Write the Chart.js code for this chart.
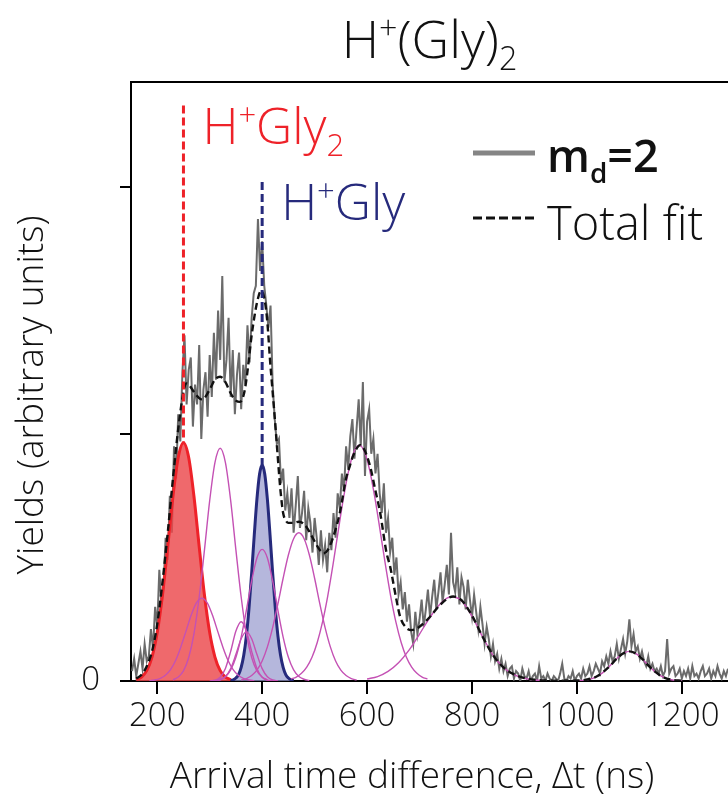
<!DOCTYPE html>
<html>
<head>
<meta charset="utf-8">
<script src="https://cdn.jsdelivr.net/npm/chart.js@4.4.0/dist/chart.umd.min.js"></script>
<style>
  html, body { margin: 0; padding: 0; background: #fff; }
  #wrap { width: 728px; height: 802px; }
</style>
</head>
<body>
<div id="wrap"><canvas id="trace" width="728" height="802"></canvas></div>
<script>
// m_d = 2 arrival-time spectrum, 4 ns bins starting at 152 ns
const rawStart = 152;
const rawStep = 4;
const rawYield = [
  0.04, 0.09, 0.02, 0.07, 0.12, 0.05, 0.15, 0.08, 0.10, 0.21, 0.13, 0.30, 0.22,
  0.45, 0.31, 0.38, 0.58, 0.49, 0.75, 0.60, 0.95, 0.82, 1.08, 0.97, 1.25,
  1.40, 1.12, 1.26, 1.31, 1.03, 1.20, 1.12, 1.36, 0.98, 1.18, 1.25, 1.07, 1.32,
  1.15, 1.41, 1.22, 1.50, 1.30, 1.64, 1.21, 1.30, 1.47, 1.15, 1.34, 1.08,
  1.24, 1.33, 1.10, 1.28, 1.20, 1.44, 1.29, 1.47, 1.57, 1.60, 1.87, 1.66, 1.78,
  1.60, 1.52, 1.43, 1.52, 1.20, 1.06, 0.96, 0.98, 0.80, 0.86, 0.69, 0.76,
  0.66, 0.78, 0.60, 0.71, 0.83, 0.62, 0.68, 0.77, 0.57, 0.70, 0.64, 0.52, 0.66,
  0.58, 0.47, 0.61, 0.49, 0.55, 0.44, 0.60, 0.53, 0.68, 0.58, 0.76, 0.70,
  0.84, 0.77, 0.95, 0.86, 0.99, 1.06, 0.90, 1.02, 1.14, 0.95, 1.21, 0.83, 1.05,
  1.10, 0.92, 0.98, 0.84, 0.92, 0.76, 0.68, 0.80, 0.60, 0.66, 0.52, 0.58,
  0.43, 0.50, 0.35, 0.40, 0.29, 0.36, 0.24, 0.31, 0.20, 0.15, 0.28, 0.19, 0.25,
  0.33, 0.22, 0.29, 0.37, 0.26, 0.34, 0.41, 0.29, 0.36, 0.44, 0.32, 0.39,
  0.47, 0.35, 0.60, 0.40, 0.36, 0.46, 0.31, 0.42, 0.38, 0.29, 0.41, 0.33, 0.26,
  0.35, 0.28, 0.21, 0.30, 0.23, 0.15, 0.22, 0.17, 0.10, 0.15, 0.08, 0.11,
  0.05, 0.09, 0.04, 0.07, 0.02, 0.05, 0.06, 0.01, 0.04, 0.03, 0.00, 0.05, 0.02,
  0.01, 0.04, 0.00, 0.02, 0.03, 0.00, 0.06, 0.01, 0.02, 0.00, 0.03, 0.01,
  0.00, 0.02, 0.01, 0.00, 0.03, 0.07, 0.01, 0.00, 0.02, 0.01, 0.04, 0.00, 0.02,
  0.03, 0.01, 0.05, 0.02, 0.03, 0.06, 0.02, 0.04, 0.07, 0.05, 0.03, 0.08,
  0.06, 0.10, 0.07, 0.12, 0.08, 0.10, 0.15, 0.09, 0.13, 0.17, 0.11, 0.16, 0.25,
  0.14, 0.19, 0.12, 0.14, 0.09, 0.12, 0.08, 0.06, 0.10, 0.05, 0.07, 0.04,
  0.05, 0.03, 0.06, 0.02, 0.04, 0.17, 0.03, 0.05, 0.06, 0.02, 0.03, 0.05, 0.01,
  0.04, 0.02, 0.05, 0.01, 0.06, 0.02, 0.03, 0.01, 0.04, 0.06, 0.02, 0.03,
  0.05, 0.01, 0.04, 0.02, 0.06, 0.03, 0.01, 0.04, 0.02, 0.05
];

// total fit
const fitTime = [
  160, 170, 180, 190, 200, 210, 220, 230, 240, 250, 255, 260, 270, 280, 285, 290,
  300, 310, 320, 330, 340, 350, 358, 365, 370, 380, 390, 398, 405, 410, 415, 420,
  425, 430, 435, 440, 445, 450, 460, 470, 480, 490, 500, 510, 517, 525, 535, 548,
  560, 567, 575, 587, 595, 606, 615, 625, 637, 644, 655, 663, 675, 685, 700, 720,
  740, 764, 780, 800, 820, 840, 860, 880, 900, 920, 940, 960, 980, 1000, 1020,
  1040, 1060, 1080, 1090, 1100, 1110, 1120, 1140, 1160, 1180, 1200
];
const fitYield = [
  0.01, 0.025, 0.06, 0.12, 0.23, 0.40, 0.60, 0.82, 1.02, 1.17, 1.205, 1.20, 1.17, 1.145, 1.14, 1.145,
  1.18, 1.22, 1.232, 1.21, 1.165, 1.135, 1.13, 1.16, 1.22, 1.40, 1.53, 1.58, 1.54, 1.45, 1.30, 1.17,
  1.04, 0.90, 0.77, 0.68, 0.65, 0.64, 0.64, 0.645, 0.635, 0.605, 0.565, 0.53, 0.517, 0.53, 0.58, 0.68,
  0.82, 0.87, 0.92, 0.955, 0.935, 0.868, 0.78, 0.68, 0.52, 0.463, 0.34, 0.26, 0.215, 0.206, 0.22, 0.26,
  0.31, 0.342, 0.327, 0.265, 0.18, 0.105, 0.055, 0.027, 0.012, 0.005, 0.002, 0.001, 0.001, 0.002, 0.006,
  0.021, 0.055, 0.099, 0.114, 0.12, 0.114, 0.099, 0.055, 0.021, 0.005, 0.001
];

// H+Gly2 and H+Gly peaks
const gly2Start = 160, gly2Step = 10;
const gly2Yield = [0.006, 0.016, 0.042, 0.097, 0.196, 0.348, 0.544, 0.748, 0.905, 0.965,
  0.905, 0.748, 0.544, 0.348, 0.196, 0.097, 0.042, 0.016, 0.006];
const glyStart = 340, glyStep = 5;
const glyYield = [0.002, 0.005, 0.012, 0.026, 0.055, 0.105, 0.184, 0.296, 0.437, 0.592, 0.735, 0.837,
  0.874, 0.837, 0.735, 0.592, 0.437, 0.296, 0.184, 0.105, 0.055, 0.026, 0.012, 0.005, 0.002];

// remaining fit components: start (ns), step (ns), values
const compStart = [185, 230, 300, 310, 310, 360, 455, 600, 1000];
const compStep = [10, 10, 10, 10, 10, 10, 10, 20, 10];
const comp285 = [0.001, 0.004, 0.010, 0.022, 0.045, 0.083, 0.138, 0.203, 0.268, 0.317, 0.335,
  0.317, 0.268, 0.203, 0.138, 0.083, 0.045, 0.022, 0.010, 0.004, 0.001];
const comp320 = [0.005, 0.016, 0.041, 0.095, 0.191, 0.340, 0.530, 0.730, 0.884, 0.942,
  0.884, 0.730, 0.530, 0.340, 0.191, 0.095, 0.041, 0.016, 0.005];
const comp360 = [0.0005, 0.003, 0.015, 0.051, 0.120, 0.202, 0.24, 0.202, 0.120, 0.051, 0.015, 0.003, 0.0005];
const comp370 = [0.001, 0.004, 0.017, 0.050, 0.108, 0.171, 0.2, 0.171, 0.108, 0.050, 0.017, 0.004, 0.001];
const comp400 = [0.002, 0.007, 0.018, 0.045, 0.096, 0.178, 0.287, 0.405, 0.498, 0.533,
  0.498, 0.405, 0.287, 0.178, 0.096, 0.045, 0.018, 0.007, 0.002];
const comp470 = [0.004, 0.010, 0.022, 0.044, 0.081, 0.138, 0.216, 0.312, 0.416, 0.510, 0.576, 0.600,
  0.576, 0.510, 0.416, 0.312, 0.216, 0.138, 0.081, 0.044, 0.022, 0.010, 0.004];
const comp585 = [0.008, 0.016, 0.031, 0.056, 0.096, 0.156, 0.238, 0.344, 0.470, 0.607, 0.740, 0.853, 0.928,
  0.955, 0.928, 0.853, 0.740, 0.607, 0.470, 0.344, 0.238, 0.156, 0.096, 0.056, 0.031, 0.016, 0.008];
const comp765 = [0.008, 0.018, 0.039, 0.074, 0.125, 0.19, 0.258, 0.314, 0.341, 0.325, 0.262, 0.18,
  0.105, 0.055, 0.026, 0.011, 0.004, 0.001];
const comp1100 = [0.001, 0.002, 0.005, 0.011, 0.021, 0.035, 0.055, 0.077, 0.099, 0.114, 0.12,
  0.114, 0.099, 0.077, 0.055, 0.035, 0.021, 0.011, 0.005, 0.002, 0.001];
const compYield = [comp285, comp320, comp360, comp370, comp400, comp470, comp585, comp765, comp1100];

// marker positions (ns) and where their dashed guides end (yield units)
const markerTime = [250, 400];
const markerTop = [2.33, 2.02];

const xTicks = [200, 400, 600, 800, 1000, 1200];
const yTicks = [0, 1, 2];

const FONT = '"Open Sans", "DejaVu Sans", sans-serif';
const RED = '#ee2229';
const NAVY = '#262a7c';
const MAGENTA = '#c451b4';

function points(start, step, ys) {
  return ys.map((y, i) => ({ x: start + step * i, y: y }));
}

function drawRich(ctx, parts, x, y, size, color, align, weight) {
  weight = weight || 300;
  const small = size * 0.62;
  const widths = parts.map(p => {
    ctx.font = weight + ' ' + (p[1] ? small : size) + 'px ' + FONT;
    return ctx.measureText(p[0]).width;
  });
  const total = widths.reduce((a, b) => a + b, 0);
  let cx = align === 'center' ? x - total / 2 : x;
  ctx.fillStyle = color;
  ctx.textBaseline = 'alphabetic';
  ctx.textAlign = 'left';
  parts.forEach((p, i) => {
    ctx.font = weight + ' ' + (p[1] ? small : size) + 'px ' + FONT;
    const dy = p[1] === 'sup' ? -size * 0.36 : p[1] === 'sub' ? size * 0.24 : 0;
    ctx.fillText(p[0], cx, y + dy);
    cx += widths[i];
  });
}

const decorations = {
  id: 'decorations',
  afterDatasetsDraw(chart) {
    const ctx = chart.ctx;
    const xs = chart.scales.x, ys = chart.scales.y;
    const area = chart.chartArea;
    ctx.save();

    // frame top
    ctx.strokeStyle = '#000';
    ctx.lineWidth = 2;
    ctx.beginPath();
    ctx.moveTo(area.left - 1, area.top);
    ctx.lineTo(area.right, area.top);
    ctx.stroke();

    // dashed guides from the peak tops
    const peaks = [Math.max(...gly2Yield), Math.max(...glyYield)];
    const colors = [RED, NAVY];
    markerTime.forEach((t, i) => {
      const px = xs.getPixelForValue(t);
      ctx.strokeStyle = colors[i];
      ctx.lineWidth = 3;
      ctx.setLineDash([8, 4]);
      ctx.beginPath();
      ctx.moveTo(px, ys.getPixelForValue(markerTop[i]));
      ctx.lineTo(px, ys.getPixelForValue(peaks[i]));
      ctx.stroke();
    });
    ctx.setLineDash([]);

    const gx = xs.getPixelForValue(markerTime[0]);
    drawRich(ctx, [['H'], ['+', 'sup'], ['Gly'], ['2', 'sub']], gx + 19,
      ys.getPixelForValue(markerTop[0]) + 39, 50, RED);
    const bx = xs.getPixelForValue(markerTime[1]);
    drawRich(ctx, [['H'], ['+', 'sup'], ['Gly']], bx + 19,
      ys.getPixelForValue(markerTop[1]) + 38, 50, NAVY);

    // legend
    ctx.strokeStyle = '#858585';
    ctx.lineWidth = 5;
    ctx.beginPath();
    ctx.moveTo(473, 153);
    ctx.lineTo(535, 153);
    ctx.stroke();
    ctx.strokeStyle = '#111';
    ctx.lineWidth = 3;
    ctx.setLineDash([9, 4]);
    ctx.beginPath();
    ctx.moveTo(473, 218);
    ctx.lineTo(535, 218);
    ctx.stroke();
    ctx.setLineDash([]);
    drawRich(ctx, [['m'], ['d', 'sub'], ['=2']], 547, 172, 45, '#111', 'left', 600);
    drawRich(ctx, [['Total fit']], 547, 240, 47, '#111');

    // title and axis titles
    drawRich(ctx, [['H'], ['+', 'sup'], ['(Gly)'], ['2', 'sub']], (area.left + area.right) / 2, 58, 52, '#111', 'center');
    ctx.font = '300 37px ' + FONT;
    ctx.fillStyle = '#111';
    ctx.textAlign = 'center';
    ctx.fillText('Arrival time difference, \u0394t (ns)', 412, 788);
    ctx.translate(43, 395);
    ctx.rotate(-Math.PI / 2);
    ctx.fillText('Yields (arbitrary units)', 0, 0);
    ctx.restore();
  }
};

const componentSets = compYield.map((ys, i) => ({
  data: points(compStart[i], compStep[i], ys),
  borderColor: MAGENTA,
  borderWidth: 1.4,
  cubicInterpolationMode: 'monotone',
  fill: false,
  order: 3
}));

new Chart(document.getElementById('trace'), {
  type: 'line',
  data: {
    datasets: [
      {
        data: fitTime.map((t, i) => ({ x: t, y: fitYield[i] })),
        borderColor: '#111',
        borderWidth: 2.4,
        borderDash: [7, 4],
        cubicInterpolationMode: 'monotone',
        fill: false,
        order: 1
      },
      ...componentSets,
      {
        data: points(glyStart, glyStep, glyYield),
        borderColor: NAVY,
        borderWidth: 3,
        backgroundColor: 'rgba(150,152,205,0.7)',
        cubicInterpolationMode: 'monotone',
        fill: 'origin',
        order: 4
      },
      {
        data: points(gly2Start, gly2Step, gly2Yield),
        borderColor: RED,
        borderWidth: 3,
        backgroundColor: 'rgba(236,72,76,0.82)',
        cubicInterpolationMode: 'monotone',
        fill: 'origin',
        order: 5
      },
      {
        data: points(rawStart, rawStep, rawYield),
        borderColor: '#6b6b6b',
        borderWidth: 2,
        tension: 0,
        fill: false,
        order: 6
      }
    ]
  },
  options: {
    responsive: false,
    animation: false,
    events: [],
    layout: { padding: { top: 82, right: 0, bottom: 0, left: 0 } },
    elements: { point: { radius: 0 } },
    plugins: { legend: { display: false }, tooltip: { enabled: false } },
    scales: {
      x: {
        type: 'linear',
        min: 150,
        max: 1288,
        afterBuildTicks: s => { s.ticks = xTicks.map(v => ({ value: v })); },
        afterFit: s => { s.height = 121; },
        border: { color: '#000', width: 2 },
        grid: { drawOnChartArea: false, drawTicks: true, tickLength: 13, color: '#000', lineWidth: 2 },
        ticks: { color: '#111', font: { family: FONT, size: 33, weight: 300 }, padding: 3, maxRotation: 0, callback: v => String(v) }
      },
      y: {
        type: 'linear',
        min: 0,
        max: 2.425,
        afterBuildTicks: s => { s.ticks = yTicks.map(v => ({ value: v })); },
        afterFit: s => { s.width = 131; },
        border: { color: '#000', width: 2 },
        grid: { drawOnChartArea: false, drawTicks: true, tickLength: 11, color: '#000', lineWidth: 2 },
        ticks: { color: '#111', font: { family: FONT, size: 33, weight: 300 }, padding: 20, callback: v => (v === 0 ? '0' : '') }
      }
    }
  },
  plugins: [decorations]
});
</script>
</body>
</html>
